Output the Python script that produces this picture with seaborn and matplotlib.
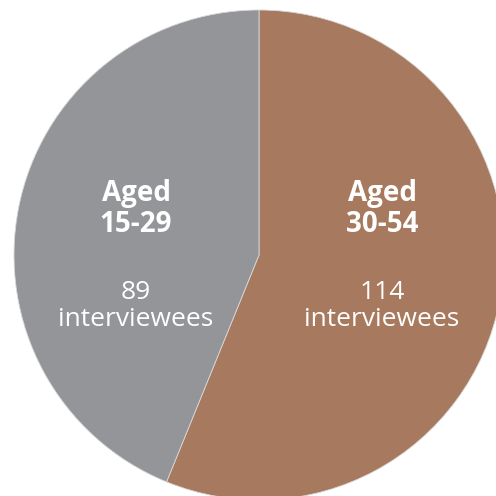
import matplotlib
matplotlib.use('Agg')
import matplotlib.pyplot as plt
import seaborn as sns

groups = ["Aged\n30-54", "Aged\n15-29"]
counts = [114, 89]
colors = ["#A7795E", "#939598"]
label_x = [382, 136]

sns.set_theme(style="white")
plt.rcParams['font.family'] = ['Open Sans', 'DejaVu Sans']

fig = plt.figure(figsize=(4.96, 4.96), dpi=100)
ax = fig.add_axes([0, 0, 1, 1])
ax.pie(counts, colors=colors, startangle=90, counterclock=False,
       center=(259, 241), radius=245,
       wedgeprops=dict(linewidth=0.6, edgecolor="#d8d8d8"))
ax.set_xlim(0, 496)
ax.set_ylim(0, 496)
ax.set_aspect('equal')
ax.axis('off')

for grp, n, x in zip(groups, counts, label_x):
    ax.text(x, 496 - 209, grp, ha='center', va='center', color='white',
            fontsize=20, fontweight='bold', linespacing=1.12)
    ax.text(x, 496 - 306, f"{n}\ninterviewees", ha='center', va='center',
            color='white', fontsize=19, linespacing=1.15)

fig.savefig("out.png", dpi=100)
